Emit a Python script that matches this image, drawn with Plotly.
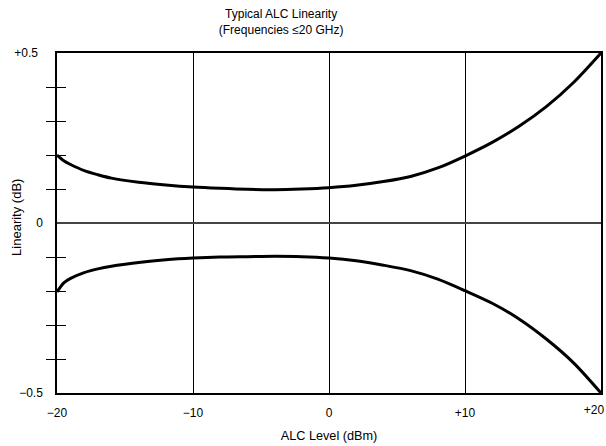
import plotly.graph_objects as go

# Data
alc_level = [-20, -19.5, -19, -18, -17, -16, -14, -12, -10, -8, -6, -4, -2,
             0, 2, 4, 6, 8, 10, 12, 14, 16, 18, 20]
upper_linearity = [0.200, 0.183, 0.172, 0.154, 0.142, 0.132, 0.120, 0.112, 0.106, 0.102, 0.099, 0.098, 0.100,
                   0.104, 0.111, 0.122, 0.137, 0.162, 0.197, 0.237, 0.285, 0.343, 0.414, 0.500]
lower_linearity = [-0.203, -0.176, -0.163, -0.146, -0.135, -0.127, -0.116, -0.108, -0.103, -0.100, -0.099, -0.098, -0.099,
                   -0.103, -0.111, -0.124, -0.140, -0.165, -0.199, -0.236, -0.283, -0.342, -0.412, -0.500]

x_tick_vals = [-20, -10, 0, 10]
x_tick_text = ["\u221220", "\u221210", "0", "+10"]
x_end_val = [20]
x_end_text = ["+20"]
y_label_vals = [-0.5, 0]
y_label_text = ["\u22120.5", "0"]
y_top_val = [0.5]
y_top_text = ["+0.5"]
y_minor_vals = [-0.4, -0.3, -0.2, -0.1, 0.1, 0.2, 0.3, 0.4]

font_family = "Liberation Sans, Arial, Helvetica, sans-serif"

fig = go.Figure()
for ys in (upper_linearity, lower_linearity):
    fig.add_trace(go.Scatter(x=alc_level, y=ys, mode="lines",
                             line=dict(color="black", width=3, shape="spline", smoothing=0.8),
                             showlegend=False, hoverinfo="skip"))
# invisible traces to anchor the overlay axes
fig.add_trace(go.Scatter(x=[alc_level[0]], y=[0], yaxis="y2", mode="markers",
                         marker=dict(opacity=0), showlegend=False, hoverinfo="skip"))
fig.add_trace(go.Scatter(x=[alc_level[0]], y=[0], xaxis="x2", mode="markers",
                         marker=dict(opacity=0), showlegend=False, hoverinfo="skip"))

fig.update_layout(
    width=606, height=446,
    margin=dict(l=57, r=5, t=53, b=53, autoexpand=False),
    paper_bgcolor="white", plot_bgcolor="white",
    font=dict(family=font_family, size=12, color="black"),
    title=dict(text="Typical ALC Linearity<br>(Frequencies \u226420 GHz)",
               x=0.412, xanchor="center", xref="paper",
               y=0.9595, yanchor="top", yref="container",
               pad=dict(t=0, b=0),
               font=dict(size=12)),
    xaxis=dict(range=[-20, 20], tickmode="array", tickvals=x_tick_vals, ticktext=x_tick_text,
               showgrid=True, gridcolor="black", gridwidth=1, zeroline=False,
               showline=True, linecolor="black", linewidth=1.5, mirror=True,
               ticks="", ticklabelstandoff=8, automargin=False, ticklabeloverflow="allow",
               title=dict(text="ALC Level (dBm)", standoff=12, font=dict(size=12.7))),
    xaxis2=dict(range=[-20, 20], overlaying="x", side="bottom", anchor="y",
                tickmode="array", tickvals=x_end_val, ticktext=x_end_text,
                ticks="", ticklabelstandoff=8, ticklabelshift=-7, ticklabeloverflow="allow",
                showgrid=False, zeroline=False, showline=False, automargin=False),
    yaxis=dict(range=[-0.5, 0.5], tickmode="array", tickvals=y_label_vals, ticktext=y_label_text,
               showgrid=False, zeroline=True, zerolinecolor="#444", zerolinewidth=2,
               showline=True, linecolor="black", linewidth=1.5, mirror=True,
               ticks="", ticklabelstandoff=10, automargin=False, ticklabeloverflow="allow",
               minor=dict(tickmode="array", tickvals=y_minor_vals, ticks="outside",
                          ticklen=9, tickwidth=1.2, tickcolor="black", showgrid=False)),
    yaxis2=dict(range=[-0.5, 0.5], overlaying="y", side="left", tickmode="array",
                tickvals=y_minor_vals + y_top_val,
                ticktext=[""] * len(y_minor_vals) + y_top_text,
                ticks="inside", ticklen=9, tickwidth=1.2, tickcolor="black",
                ticklabelstandoff=18, ticklabeloverflow="allow", automargin=False,
                showgrid=False, zeroline=False, showline=False),
    annotations=[dict(text="Linearity (dB)", textangle=-90, showarrow=False,
                      xref="paper", yref="paper", x=-0.0735, y=0.515,
                      xanchor="center", yanchor="middle", font=dict(size=13))],
)

# remove the browser's default body margin so the figure fills the window exactly
fig.write_html("out.html", config={"displayModeBar": False},
               post_script="document.body.style.margin='0';document.body.style.overflow='hidden';")
